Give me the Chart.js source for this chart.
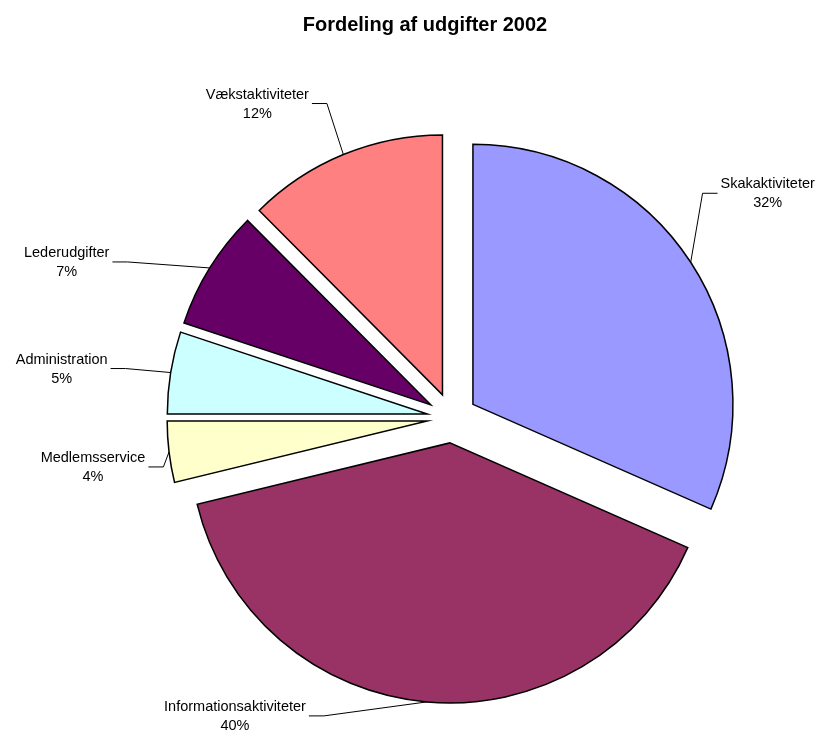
<!DOCTYPE html>
<html>
<head>
<meta charset="utf-8">
<script src="https://cdn.jsdelivr.net/npm/chart.js@4/dist/chart.umd.min.js"></script>
<style>
  body { margin: 0; background: #fff; }
  #box { width: 822px; height: 733px; position: relative; }
</style>
</head>
<body>
<div id="box"><canvas id="myChart"></canvas></div>
<script>
// data (start at 12 o'clock, clockwise)
let categories = ['Skakaktiviteter', 'Informationsaktiviteter', 'Medlemsservice', 'Administration', 'Lederudgifter', 'Vækstaktiviteter'];
let shares = [31.6, 39.6, 3.8, 5.1, 7.45, 12.45];
let colours = ['#9999FF', '#993366', '#FFFFCC', '#CCFFFF', '#660066', '#FF8080'];
// where each label sits, relative to the outer middle of its slice
let labelShift = [[77, -69], [-192, 14], [-76, 15], [-109, -4], [-143, -6], [-86, -51]];
let chartTitle = 'Fordeling af udgifter 2002';

const EXPLODE = 25;

// draw slices pulled out from the centre
let explodePlugin = {
    id: 'explode',
    beforeDatasetDraw(chart, args) {
        let ctx = chart.ctx;
        args.meta.data.forEach(arc => {
            let mid = (arc.startAngle + arc.endAngle) / 2;
            ctx.save();
            ctx.translate(Math.cos(mid) * EXPLODE, Math.sin(mid) * EXPLODE);
            arc.draw(ctx);
            ctx.restore();
        });
        return false;
    }
};

// leader lines, labels, title
let labelPlugin = {
    id: 'pieLabels',
    afterDatasetsDraw(chart) {
        let ctx = chart.ctx;
        let meta = chart.getDatasetMeta(0);
        let total = shares.reduce((s, v) => s + v, 0);
        ctx.save();
        ctx.font = '14.5px "Liberation Sans", Arial, sans-serif';
        ctx.textAlign = 'center';
        ctx.textBaseline = 'middle';
        meta.data.forEach((arc, i) => {
            let mid = (arc.startAngle + arc.endAngle) / 2;
            let r = arc.outerRadius + EXPLODE;
            let px = arc.x + Math.cos(mid) * r;
            let py = arc.y + Math.sin(mid) * r;
            let tx = px + labelShift[i][0];
            let ty = py + labelShift[i][1];
            let name = categories[i];
            let pct = Math.round(shares[i] / total * 100) + '%';
            let w = ctx.measureText(name).width;
            let side = labelShift[i][0] > 0 ? -1 : 1;
            let ex = tx + side * (w / 2 + 3);
            let elbow = ex + side * 15;
            ctx.strokeStyle = '#000';
            ctx.lineWidth = 1;
            ctx.beginPath();
            ctx.moveTo(px, py);
            ctx.lineTo(elbow, ty);
            ctx.lineTo(ex, ty);
            ctx.stroke();
            ctx.fillStyle = '#000';
            ctx.fillText(name, tx, ty - 9);
            ctx.fillText(pct, tx, ty + 10);
        });
        ctx.font = 'bold 20px "Liberation Sans", Arial, sans-serif';
        ctx.fillText(chartTitle, 425, 25);
        ctx.restore();
    }
};

let ctx = document.getElementById('myChart').getContext('2d');
let chart = new Chart(ctx, {
    type: 'pie',
    data: {
        labels: categories,
        datasets: [{
            data: shares,
            backgroundColor: colours,
            borderColor: '#000',
            borderWidth: 1.5,
            borderJoinStyle: 'miter',
            radius: 260
        }]
    },
    options: {
        responsive: true,
        maintainAspectRatio: false,
        animation: false,
        layout: { padding: { left: 82, top: 103, right: 0, bottom: 0 } },
        plugins: {
            legend: { display: false },
            title: { display: false },
            tooltip: { enabled: false }
        }
    },
    plugins: [explodePlugin, labelPlugin]
});
</script>
</body>
</html>
